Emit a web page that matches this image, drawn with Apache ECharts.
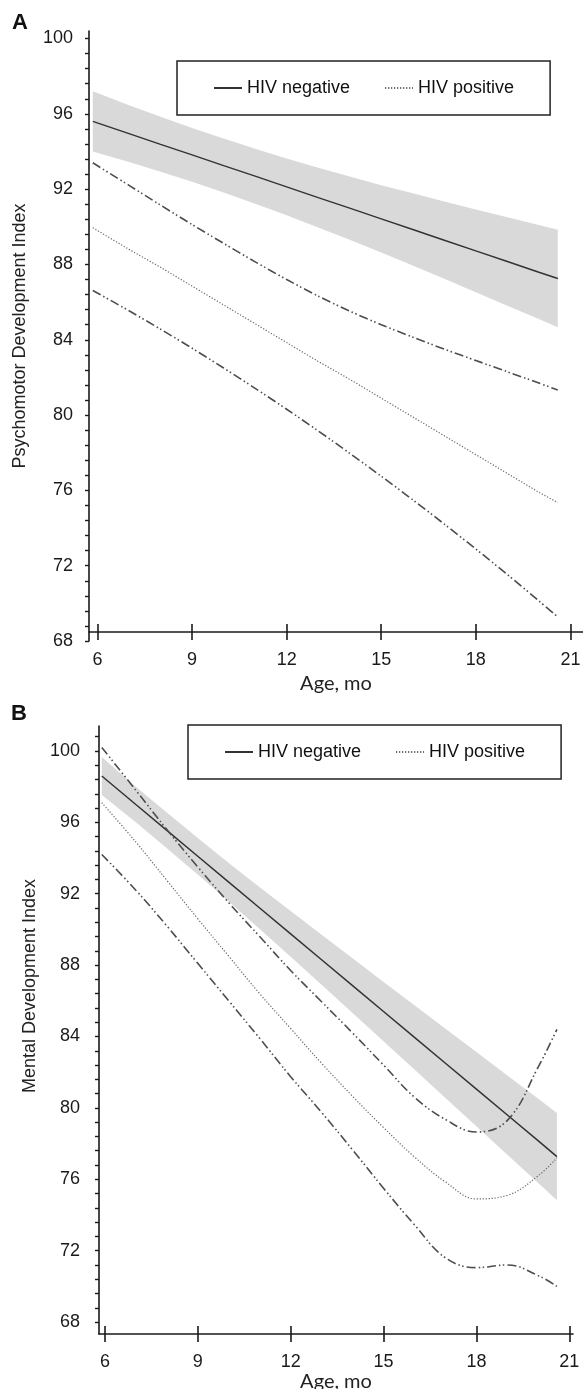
<!DOCTYPE html>
<html>
<head>
<meta charset="utf-8">
<script src="https://cdn.jsdelivr.net/npm/echarts@6/dist/echarts.min.js"></script>
<style>
  html, body { margin: 0; padding: 0; background: #fff; }
  #chart { width: 583px; height: 1389px; }
</style>
</head>
<body>
<div id="chart"></div>
<script>
// values (age in months)
var agesA = [5.85, 7, 8, 9, 10, 11, 12, 13, 14, 15, 16, 17, 18, 19, 20, 20.6];
var negMeanA  = [95.6, 94.95, 94.38, 93.82, 93.25, 92.69, 92.12, 91.55, 90.99, 90.42, 89.86, 89.29, 88.72, 88.16, 87.59, 87.25];
var negUpperA = [97.2, 96.46, 95.84, 95.25, 94.69, 94.15, 93.63, 93.14, 92.67, 92.21, 91.78, 91.34, 90.92, 90.51, 90.1, 89.85];
var negLowerA = [94.0, 93.44, 92.92, 92.39, 91.82, 91.23, 90.61, 89.96, 89.31, 88.63, 87.94, 87.24, 86.52, 85.81, 85.1, 84.67];
var posMeanA  = [89.95, 88.8, 87.85, 86.85, 85.85, 84.85, 83.85, 82.85, 81.9, 80.9, 79.9, 78.9, 77.9, 76.9, 75.9, 75.35];
var posUpperA = [93.4, 92.2, 91.15, 90.12, 89.12, 88.14, 87.2, 86.32, 85.52, 84.8, 84.14, 83.5, 82.9, 82.3, 81.7, 81.33];
var posLowerA = [86.62, 85.54, 84.56, 83.55, 82.5, 81.42, 80.31, 79.16, 77.97, 76.75, 75.5, 74.21, 72.89, 71.53, 70.13, 69.28];

var agesB = [5.9, 7, 8, 9, 10, 11, 12, 13, 14, 15, 16, 17, 18, 19, 20, 20.6];
var negMeanB  = [98.6, 97.0, 95.55, 94.1, 92.65, 91.2, 89.75, 88.3, 86.85, 85.4, 83.95, 82.5, 81.05, 79.6, 78.15, 77.27];
var negUpperB = [99.66, 98.0, 96.55, 95.12, 93.73, 92.37, 91.03, 89.7, 88.38, 87.06, 85.75, 84.44, 83.13, 81.82, 80.51, 79.71];
var negLowerB = [97.54, 96.0, 94.55, 93.08, 91.57, 90.03, 88.47, 86.9, 85.32, 83.74, 82.15, 80.56, 78.97, 77.38, 75.79, 74.83];
var posMeanB  = [97.1, 94.9, 92.75, 90.6, 88.5, 86.4, 84.45, 82.5, 80.65, 78.9, 77.25, 75.85, 74.9, 75.1, 76.2, 77.2];
var posUpperB = [100.2, 97.8, 95.6, 93.5, 91.5, 89.6, 87.7, 85.95, 84.2, 82.4, 80.6, 79.35, 78.65, 79.3, 82.3, 84.4];
var posLowerB = [94.2, 92.2, 90.2, 88.1, 86.0, 83.9, 81.75, 79.75, 77.65, 75.5, 73.45, 71.6, 71.05, 71.2, 70.6, 70.0];

var xTicks = [6, 9, 12, 15, 18, 21];
var yLabels = [68, 72, 76, 80, 84, 88, 92, 96, 100];

// small ticks every 0.8 points
function minorTicks(from, to) {
    var out = [];
    for (var i = 0; from + i * 0.8 <= to + 1e-6; i++) out.push(Math.round((from + i * 0.8) * 10) / 10);
    return out;
}
var yTicksA = minorTicks(68, 100.4);
var yTicksB = minorTicks(68, 101.4);

var ink = '#1a1a1a';
var sans = 'Liberation Sans, Arial, sans-serif';
var ciDash = [9, 3, 1.5, 2.5, 1.5, 3];

function pairs(xs, ys) {
    return xs.map(function (x, i) { return [x, ys[i]]; });
}

function band(xs, lo, hi, xi, yi) {
    return {
        type: 'custom', xAxisIndex: xi, yAxisIndex: yi, silent: true, z: 1,
        data: xs.map(function (x, i) { return [x, lo[i], hi[i]]; }),
        encode: { x: 0, y: [1, 2] },
        renderItem: function (params, api) {
            if (params.dataIndex !== 0) return null;
            var pts = [];
            for (var i = 0; i < xs.length; i++) pts.push(api.coord([xs[i], hi[i]]));
            for (var j = xs.length - 1; j >= 0; j--) pts.push(api.coord([xs[j], lo[j]]));
            return { type: 'polygon', shape: { points: pts }, style: { fill: '#d9d9d9' } };
        }
    };
}

function line(name, xs, ys, xi, yi, style, smooth) {
    return {
        type: 'line', name: name, xAxisIndex: xi, yAxisIndex: yi,
        data: pairs(xs, ys), symbol: 'none', smooth: smooth, z: 3,
        itemStyle: { color: 'rgba(0,0,0,0)', borderWidth: 0 },
        lineStyle: style
    };
}

var solid = { color: '#333', width: 1.5, type: 'solid' };
var dotted = { color: '#666', width: 1.2, type: [1.2, 1.8] };
var dashdot = { color: '#4d4d4d', width: 1.6, type: ciDash };

function xAxes(grid, min, max, offset, nameGap) {
    var tickStyle = { color: ink, width: 1.6 };
    return [{
        gridIndex: grid, type: 'value', position: 'bottom', min: min, max: max, offset: offset,
        axisLine: { onZero: false, lineStyle: { color: ink, width: 1.6 } },
        axisTick: { customValues: xTicks, length: 8, lineStyle: tickStyle },
        axisLabel: { customValues: xTicks, fontSize: 18, color: ink, fontFamily: sans, margin: 19 },
        splitLine: { show: false },
        name: 'Age, mo', nameLocation: 'middle', nameGap: nameGap,
        nameTextStyle: { fontFamily: 'Lato, sans-serif', fontSize: 20, color: '#222' }
    }, {
        gridIndex: grid, type: 'value', position: 'bottom', min: min, max: max, offset: offset,
        axisLine: { show: false },
        axisTick: { customValues: xTicks, inside: true, length: 8, lineStyle: tickStyle },
        axisLabel: { show: false },
        splitLine: { show: false }
    }];
}

function yAxis(grid, min, max, ticks, name, nameGap, margin, namePad) {
    return {
        gridIndex: grid, type: 'value', min: min, max: max,
        axisLine: { show: true, lineStyle: { color: ink, width: 1.6 } },
        axisTick: { customValues: ticks, length: 4, lineStyle: { color: ink, width: 1.4 } },
        axisLabel: { customValues: yLabels, fontSize: 18, color: ink, fontFamily: sans, margin: margin },
        splitLine: { show: false },
        name: name, nameLocation: 'middle', nameGap: nameGap, nameRotate: 90,
        nameTextStyle: { fontFamily: sans, fontSize: 18, color: '#222', padding: namePad }
    };
}

function legend(left, top) {
    return {
        left: left, top: top, selectedMode: false,
        data: ['HIV negative', 'HIV positive'],
        padding: [18, 36], itemGap: 34, itemWidth: 28, itemHeight: 14,
        borderColor: '#222', borderWidth: 1.5, backgroundColor: '#fff',
        itemStyle: { opacity: 0 },
        textStyle: { fontSize: 18, color: '#111', fontFamily: sans }
    };
}

var chart = echarts.init(document.getElementById('chart'), null, { renderer: 'canvas' });

var option = {
    backgroundColor: '#fff',
    animation: false,
    title: [
        { text: 'A', left: 12, top: 12, padding: 0, textStyle: { fontSize: 22, fontWeight: 'bold', color: '#111', fontFamily: sans } },
        { text: 'B', left: 11, top: 703, padding: 0, textStyle: { fontSize: 22, fontWeight: 'bold', color: '#111', fontFamily: sans } }
    ],
    legend: [legend(177, 61), legend(188, 725)],
    grid: [
        { left: 89, top: 31, width: 494, height: 610, outerBoundsMode: 'none' },
        { left: 99, top: 726, width: 474, height: 608, outerBoundsMode: 'none' }
    ],
    xAxis: xAxes(0, 5.73, 21.4, -9, 42).concat(xAxes(1, 5.81, 21.12, 0, 26)),
    yAxis: [
        yAxis(0, 68, 100.4, yTicksA, 'Psychomotor Development Index', 60, 16, 0),
        yAxis(1, 67.33, 101.4, yTicksB, 'Mental Development Index', 55, 19, [0, 0, 0, 88])
    ],
    series: [
        band(agesA, negLowerA, negUpperA, 0, 0),
        line('HIV negative', agesA, negMeanA, 0, 0, solid, false),
        line('HIV positive', agesA, posMeanA, 0, 0, dotted, false),
        line('HIV positive upper', agesA, posUpperA, 0, 0, dashdot, 0.3),
        line('HIV positive lower', agesA, posLowerA, 0, 0, dashdot, 0.3),

        band(agesB, negLowerB, negUpperB, 2, 1),
        line('HIV negative', agesB, negMeanB, 2, 1, solid, false),
        line('HIV positive', agesB, posMeanB, 2, 1, dotted, 0.4),
        line('HIV positive upper', agesB, posUpperB, 2, 1, dashdot, 0.4),
        line('HIV positive lower', agesB, posLowerB, 2, 1, dashdot, 0.4)
    ]
};

chart.setOption(option);
</script>
</body>
</html>
